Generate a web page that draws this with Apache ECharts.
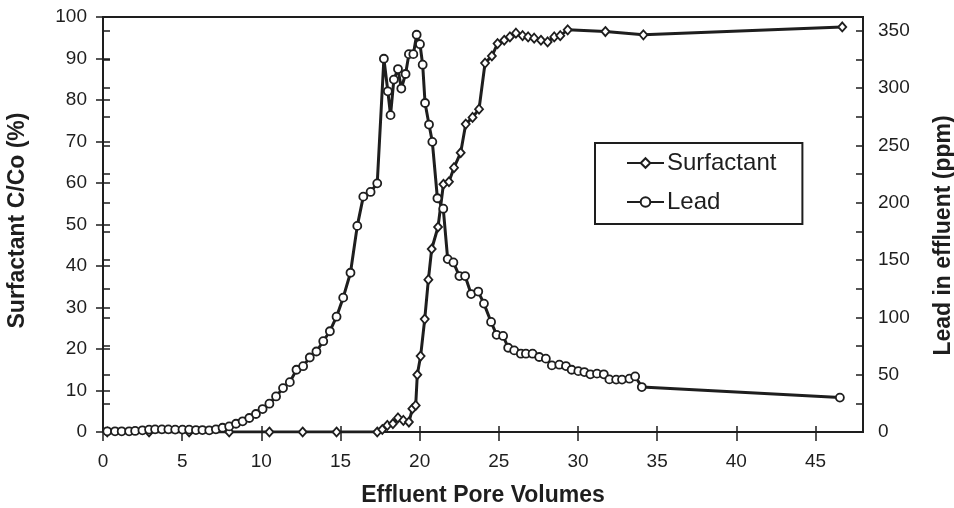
<!DOCTYPE html>
<html>
<head>
<meta charset="utf-8">
<script src="https://cdn.jsdelivr.net/npm/echarts@6/dist/echarts.min.js"></script>
<style>
  html, body { margin: 0; padding: 0; background: #fff; }
  #chart { width: 954px; height: 508px; }
</style>
</head>
<body>
<div id="chart"></div>
<script>
// pore volumes / surfactant C/Co (%)
let surfX = [0.27, 2.91, 5.44, 7.97, 10.51, 12.61, 14.75, 17.32, 17.64, 17.96, 18.31, 18.63, 18.97, 19.32, 19.54, 19.75,
  19.85, 20.06, 20.32, 20.55, 20.76, 21.16, 21.50, 21.85, 22.17, 22.59, 22.91, 23.34, 23.75, 24.13, 24.56, 24.92,
  25.34, 25.70, 26.08, 26.50, 26.85, 27.23, 27.66, 28.08, 28.50, 28.88, 29.35, 31.73, 34.13, 46.69]
let surfY = [0, 0, 0, 0, 0, 0, 0, 0, 0.6, 1.6, 2.0, 3.4, 2.8, 2.4, 5.6, 6.4,
  13.8, 18.3, 27.2, 36.7, 44.1, 49.4, 59.7, 60.3, 63.7, 67.3, 74.2, 75.8, 77.8, 88.9, 90.6, 93.6,
  94.4, 95.2, 96.1, 95.5, 95.2, 94.9, 94.4, 94.0, 95.2, 95.5, 96.9, 96.5, 95.7, 97.6]

// pore volumes / lead in effluent (ppm)
let leadX = [0.27, 0.76, 1.18, 1.65, 2.03, 2.49, 2.91, 3.29, 3.72, 4.13, 4.56, 5.02, 5.44, 5.87, 6.28, 6.71,
  7.13, 7.55, 7.97, 8.40, 8.82, 9.24, 9.66, 10.08, 10.51, 10.93, 11.37, 11.80, 12.22, 12.64, 13.06, 13.48,
  13.91, 14.33, 14.75, 15.17, 15.63, 16.06, 16.44, 16.90, 17.32, 17.74, 17.99, 18.16, 18.37, 18.63, 18.84,
  19.11, 19.32, 19.60, 19.81, 20.02, 20.19, 20.34, 20.59, 20.80, 21.12, 21.49, 21.77, 22.13, 22.51, 22.87,
  23.25, 23.70, 24.06, 24.51, 24.86, 25.27, 25.59, 25.97, 26.39, 26.71, 27.13, 27.55, 27.97, 28.35, 28.82,
  29.24, 29.60, 30.02, 30.40, 30.78, 31.20, 31.63, 31.98, 32.41, 32.78, 33.25, 33.61, 34.03, 46.54]
let leadY = [0.6, 0.6, 0.6, 0.6, 0.9, 1.5, 2.1, 2.3, 2.3, 2.3, 2.1, 2.1, 2.1, 1.7, 1.7, 1.5,
  2.3, 3.7, 4.9, 7.2, 9.3, 12.2, 15.7, 20.0, 24.7, 31.0, 38.3, 43.5, 54.3, 57.4, 65.0, 70.2,
  79.2, 87.9, 100.6, 117.2, 138.9, 179.8, 205.3, 209.4, 216.9, 325.6, 297.2, 276.4, 307.4, 316.6, 299.6,
  312.3, 329.6, 329.6, 346.5, 338.3, 320.4, 287.0, 268.2, 253.1, 203.9, 194.8, 150.8, 147.9, 136.0, 136.0,
  120.3, 122.5, 112.0, 96.0, 84.8, 83.8, 73.5, 71.2, 68.3, 68.3, 68.3, 65.4, 64.0, 58.1, 58.7,
  57.5, 54.3, 53.1, 52.3, 50.3, 50.9, 50.3, 45.9, 45.7, 45.7, 46.5, 48.5, 39.2, 30.0]

let xTicks = [0, 5, 10, 15, 20, 25, 30, 35, 40, 45]
let leftTicks = [0, 10, 20, 30, 40, 50, 60, 70, 80, 90, 100]
let rightTicks = [0, 25, 50, 75, 100, 125, 150, 175, 200, 225, 250, 275, 300, 325, 350]
let rightLabels = [0, 50, 100, 150, 200, 250, 300, 350]

let ink = '#1e1e1e'
let font = 'Liberation Sans, Arial, sans-serif'

let pairs = (xs, ys) => xs.map((x, i) => [x, ys[i]])

let chart = echarts.init(document.getElementById('chart'))

let baseAxis = {
  axisLine: { show: true, lineStyle: { color: ink, width: 2 } },
  splitLine: { show: false }
}
// second copy of each axis only draws the inner half of the crossing ticks
let innerTicks = (vals, len) => ({
  axisLine: { show: false },
  axisLabel: { show: false },
  splitLine: { show: false },
  axisTick: { show: true, inside: true, length: len, customValues: vals, lineStyle: { color: ink, width: 1.5 } }
})

let option = {
  backgroundColor: '#fff',
  animation: false,
  grid: {
    left: 103, right: 91, top: 17, bottom: 76,
    outerBoundsMode: 'none',
    show: true, borderColor: ink, borderWidth: 2
  },
  legend: {
    orient: 'vertical',
    left: 595, top: 143,
    padding: [8, 26, 10, 31],
    borderColor: ink, borderWidth: 2,
    itemWidth: 37, itemHeight: 12, itemGap: 15,
    textStyle: { fontFamily: font, fontSize: 24, color: ink, lineHeight: 24, padding: [0, 0, 0, -2] },
    data: ['Surfactant', 'Lead']
  },
  xAxis: [
    Object.assign({}, baseAxis, {
      type: 'value', min: 0, max: 48, position: 'bottom',
      name: 'Effluent Pore Volumes', nameLocation: 'middle', nameGap: 52,
      nameTextStyle: { fontFamily: font, fontSize: 23, fontWeight: 'bold', color: ink },
      axisTick: { show: true, inside: false, length: 9, customValues: xTicks, lineStyle: { color: ink, width: 1.5 } },
      axisLabel: { customValues: xTicks, margin: 20, fontFamily: font, fontSize: 19, color: ink }
    }),
    Object.assign({ type: 'value', min: 0, max: 48, position: 'bottom' }, innerTicks(xTicks, 6))
  ],
  yAxis: [
    Object.assign({}, baseAxis, {
      type: 'value', min: 0, max: 100, position: 'left',
      name: 'Surfactant C/Co (%)', nameLocation: 'middle', nameGap: 74, nameRotate: 90,
      nameTextStyle: { fontFamily: font, fontSize: 23, fontWeight: 'bold', color: ink, padding: [0, 0, 0, 8] },
      axisTick: { show: true, inside: false, length: 7, customValues: leftTicks, lineStyle: { color: ink, width: 1.5 } },
      axisLabel: { customValues: leftTicks, margin: 16, fontFamily: font, fontSize: 19, color: ink }
    }),
    Object.assign({}, baseAxis, {
      type: 'value', min: 0, max: 362, position: 'right',
      name: 'Lead in effluent (ppm)', nameLocation: 'middle', nameGap: 69, nameRotate: 90,
      nameTextStyle: { fontFamily: font, fontSize: 23, fontWeight: 'bold', color: ink, padding: [0, 22, 0, 0] },
      axisTick: { show: true, inside: false, length: 7, customValues: rightTicks, lineStyle: { color: ink, width: 1.5 } },
      axisLabel: { customValues: rightLabels, margin: 15, fontFamily: font, fontSize: 19, color: ink }
    }),
    Object.assign({ type: 'value', min: 0, max: 100, position: 'left' }, innerTicks(leftTicks, 7)),
    Object.assign({ type: 'value', min: 0, max: 362, position: 'right' }, innerTicks(rightTicks, 7))
  ],
  series: [
    {
      name: 'Surfactant',
      type: 'line',
      xAxisIndex: 0, yAxisIndex: 0,
      data: pairs(surfX, surfY),
      symbol: 'diamond', symbolSize: [8, 9],
      showAllSymbol: true,
      lineStyle: { color: ink, width: 3 },
      itemStyle: { color: '#fff', borderColor: ink, borderWidth: 1.8 },
      z: 2
    },
    {
      name: 'Lead',
      type: 'line',
      xAxisIndex: 0, yAxisIndex: 1,
      data: pairs(leadX, leadY),
      symbol: 'circle', symbolSize: 8,
      showAllSymbol: true,
      lineStyle: { color: ink, width: 3 },
      itemStyle: { color: '#fff', borderColor: ink, borderWidth: 1.8 },
      z: 3
    }
  ]
}
chart.setOption(option)
</script>
</body>
</html>
